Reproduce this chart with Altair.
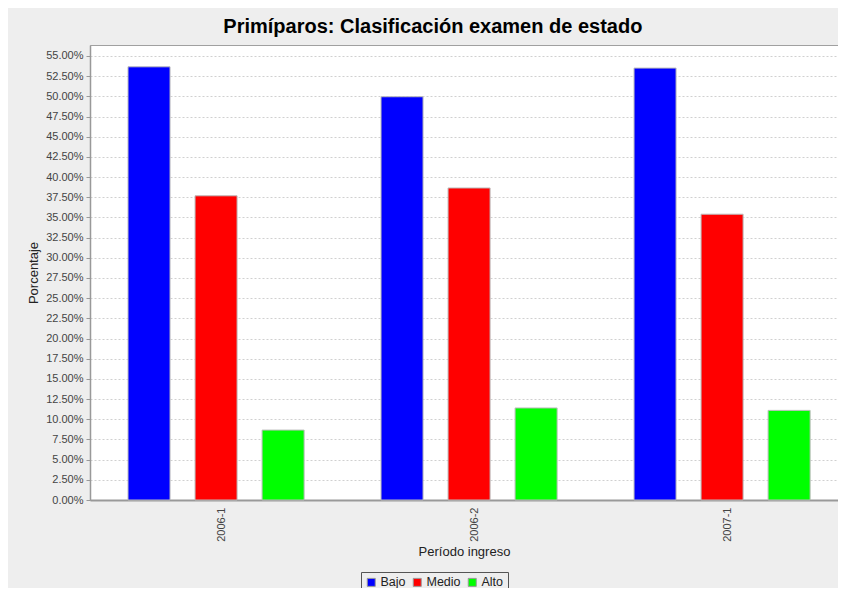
import altair as alt
import pandas as pd

periods = ["2006-1", "2006-2", "2007-1"]
levels = ["Bajo", "Medio", "Alto"]
bajo = [0.5366, 0.4995, 0.5350]
medio = [0.3768, 0.3865, 0.3540]
alto = [0.0866, 0.1140, 0.1110]
level_colors = ["#0000FF", "#FF0000", "#00FF00"]
y_ticks = [0.0, 0.025, 0.05, 0.075, 0.10, 0.125, 0.15, 0.175, 0.20, 0.225,
           0.25, 0.275, 0.30, 0.325, 0.35, 0.375, 0.40, 0.425, 0.45, 0.475,
           0.50, 0.525, 0.55]

rows = []
for i, p in enumerate(periods):
    for lvl, vals in zip(levels, [bajo, medio, alto]):
        rows.append({"periodo": p, "nivel": lvl, "valor": vals[i]})
df = pd.DataFrame(rows)

FONT = "Liberation Sans"

chart = alt.Chart(df).mark_bar(stroke="#BBBBBB", strokeWidth=1).encode(
    x=alt.X(
        "periodo:N", sort=periods, title="Período ingreso",
        scale=alt.Scale(paddingInner=0.304, paddingOuter=0.1302, align=0.577),
        axis=alt.Axis(labelAngle=-90, ticks=False, labelPadding=7, labelFontSize=11,
                      labelFont=FONT, labelColor="#444444", labelOffset=6,
                      titleFont=FONT, titleFontSize=13, titleFontWeight="normal",
                      titleColor="#222222", titlePadding=4,
                      domainColor="#999999", domainWidth=2, grid=False),
    ),
    xOffset=alt.XOffset("nivel:N", sort=levels,
                        scale=alt.Scale(paddingInner=0.373, paddingOuter=0)),
    y=alt.Y(
        "valor:Q", title="Porcentaje",
        scale=alt.Scale(domain=[0, 0.5636], nice=False, zero=True),
        axis=alt.Axis(values=y_ticks, format=".2%", labelFont=FONT, labelFontSize=11,
                      labelColor="#444444", labelPadding=3, tickSize=4,
                      tickColor="#999999", domainColor="#999999", domainWidth=1.5,
                      gridColor="#D0D0D0", gridDash=[2, 2], gridWidth=1,
                      titleFont=FONT, titleFontSize=13, titleFontWeight="normal",
                      titleColor="#222222", titlePadding=5),
    ),
    color=alt.Color(
        "nivel:N", sort=levels,
        scale=alt.Scale(domain=levels, range=level_colors),
        legend=alt.Legend(title=None, orient="none", legendX=271, legendY=527,
                          direction="horizontal", symbolType="square", symbolSize=64,
                          symbolStrokeColor="#999999", symbolStrokeWidth=1,
                          labelFont=FONT, labelFontSize=12.5, labelColor="#222222",
                          labelOffset=3, columnPadding=5, padding=4,
                          strokeColor="#555555", fillColor="#EEEEEE"),
    ),
).properties(
    width=748,
    height=455,
    title=alt.TitleParams("Primíparos: Clasificación examen de estado", font=FONT,
                          fontSize=20, fontWeight="bold", color="#000000",
                          anchor="middle", frame="bounds", baseline="alphabetic",
                          offset=13, dy=21),
    autosize=alt.AutoSizeParams(type="none"),
    padding={"left": 82, "top": 37, "right": 0, "bottom": 88},
    background="#EEEEEE",
).configure_view(fill="white", stroke="#A0A0A0", strokeWidth=1)

chart.save("out.html", embed_options={"renderer": "svg", "actions": False})
